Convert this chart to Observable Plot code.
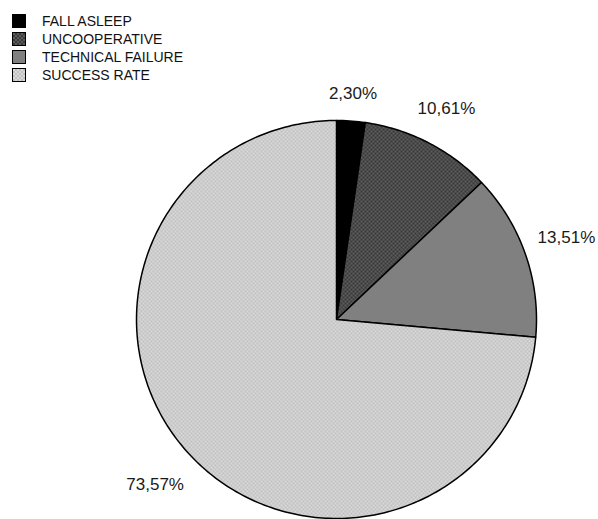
<!DOCTYPE html>
<html>
<head>
<meta charset="utf-8">
<script src="https://cdn.jsdelivr.net/npm/d3@7"></script>
<script src="https://cdn.jsdelivr.net/npm/@observablehq/plot@0.6"></script>
<style>
  html, body { margin: 0; padding: 0; background: #fff; }
  #wrap { position: relative; width: 598px; height: 519px; font-family: "Liberation Sans", Arial, sans-serif; }
  #legend { position: absolute; left: 12px; top: 12px; font-size: 14px; color: #111; }
  .row { display: flex; align-items: center; height: 18px; }
  .sw { width: 14px; height: 14px; border: 1.5px solid #000; box-sizing: border-box; margin-right: 16px; }
</style>
</head>
<body>
<div id="wrap"><div id="legend"></div></div>
<script>
const categories = ["FALL ASLEEP", "UNCOOPERATIVE", "TECHNICAL FAILURE", "SUCCESS RATE"];
const values = [2.30, 10.61, 13.51, 73.57];
const labels = ["2,30%", "10,61%", "13,51%", "73,57%"];
const fills = ["#000000", "url(#pUnc)", "#808080", "url(#pSucc)"];

const W = 598, H = 519;
const mL = 136, mR = 62, mT = 120;
const R = (W - mL - mR) / 2;   // pie radius in px
const labelFont = 17;
const arcs = d3.pie().sort(null).value(d => d)(values);
const steps = 360;
const pts = [];
arcs.forEach((a, i) => {
  const cat = categories[i];
  pts.push({cat, x: 0, y: 0});
  const n = Math.max(2, Math.ceil((a.endAngle - a.startAngle) / (2 * Math.PI) * steps));
  for (let k = 0; k <= n; k++) {
    const t = a.startAngle + (a.endAngle - a.startAngle) * k / n;
    pts.push({cat, x: Math.sin(t), y: Math.cos(t)});
  }
  pts.push({cat, x: 0, y: 0});
});
// outside labels: gap beyond the rim plus half the text box along the direction, kept inside the frame
const cx = mL + R;
const lab = arcs.map((a, i) => {
  const m = (a.startAngle + a.endAngle) / 2;
  const s = Math.sin(m), c = Math.cos(m);
  const w = labels[i].length * 0.57 * labelFont, h = 0.75 * labelFont;
  const dist = 1.10 * R + Math.abs(s) * w / 2 + Math.abs(c) * h / 2;
  let px = s * dist;
  const maxX = W - 3 - w / 2 - cx, minX = 3 + w / 2 - cx;
  px = Math.max(minX, Math.min(maxX, px));
  return {label: labels[i], x: px / R, y: c * dist / R};
});

const chart = Plot.plot({
  width: W,
  height: H,
  marginLeft: mL,
  marginRight: mR,
  marginTop: mT,
  marginBottom: 0,
  x: {domain: [-1, 1], axis: null},
  y: {domain: [-1.005, 1], axis: null},
  color: {domain: categories, range: fills},
  marks: [
    Plot.line(pts, {x: "x", y: "y", z: "cat", fill: "cat", stroke: "#000", strokeWidth: 1.5, strokeLinejoin: "round", curve: "linear"}),
    Plot.text(lab, {x: "x", y: "y", text: "label", fontSize: labelFont, fill: "#1a1a1a", fontFamily: "Liberation Sans, Arial, sans-serif"})
  ]
});
chart.style.position = "absolute";
chart.style.left = "0px";
chart.style.top = "0px";
chart.style.overflow = "visible";

const svg = d3.select(chart);
const defs = svg.insert("defs", ":first-child");
function checker(id, a, b) {
  const p = defs.append("pattern").attr("id", id).attr("width", 4).attr("height", 4).attr("patternUnits", "userSpaceOnUse");
  p.append("rect").attr("width", 4).attr("height", 4).attr("fill", a);
  p.append("rect").attr("width", 2).attr("height", 2).attr("fill", b);
  p.append("rect").attr("x", 2).attr("y", 2).attr("width", 2).attr("height", 2).attr("fill", b);
}
checker("pUnc", "#3a3a3a", "#5c5c5c");
checker("pSucc", "#c0c0c0", "#dadada");

const wrap = document.getElementById("wrap");
wrap.insertBefore(chart, wrap.firstChild);

const legend = d3.select("#legend");
const swBg = [
  "#000",
  "repeating-conic-gradient(#3a3a3a 0% 25%, #5c5c5c 0% 50%) 0 0 / 4px 4px",
  "#808080",
  "repeating-conic-gradient(#c0c0c0 0% 25%, #dadada 0% 50%) 0 0 / 4px 4px"
];
categories.forEach((c, i) => {
  const row = legend.append("div").attr("class", "row");
  row.append("div").attr("class", "sw").style("background", swBg[i]);
  row.append("span").text(c);
});
</script>
</body>
</html>
